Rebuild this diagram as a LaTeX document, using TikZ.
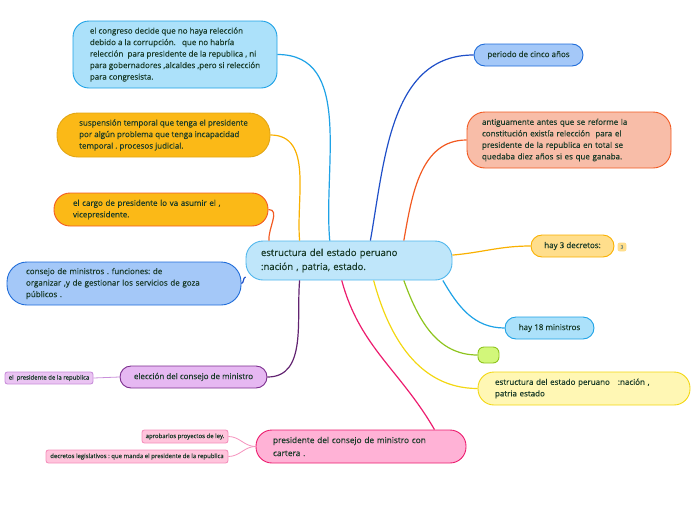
\documentclass[tikz,border=0pt]{standalone}
\usepackage{fontspec}
\setmainfont{Open Sans}[FakeBold=0.35]
\usepackage{xcolor}
\usepackage{tikz}
\usetikzlibrary{positioning}
\frenchspacing
\definecolor{inkText}{HTML}{183A28}
\definecolor{cyanLine}{HTML}{1EA2E6}
\definecolor{cyanFill}{HTML}{ACE1FA}
\definecolor{cenFill}{HTML}{BFE6FA}
\definecolor{cenLine}{HTML}{4FB6EC}
\definecolor{amberLine}{HTML}{F9B000}
\definecolor{amberFill}{HTML}{FBB917}
\definecolor{redLine}{HTML}{F25A22}
\definecolor{salmonFill}{HTML}{F8BDA8}
\definecolor{blueLine}{HTML}{1F6CD9}
\definecolor{blueDark}{HTML}{1F4FC8}
\definecolor{blueFill}{HTML}{A4C8F8}
\definecolor{purpleLine}{HTML}{7B2D8E}
\definecolor{purpleFill}{HTML}{E6B8F2}
\definecolor{lilacLine}{HTML}{C98FDA}
\definecolor{lilacFill}{HTML}{EAC4F2}
\definecolor{pinkLine}{HTML}{EC1C6E}
\definecolor{pinkFill}{HTML}{FFB2D6}
\definecolor{roseLine}{HTML}{F590BC}
\definecolor{roseFill}{HTML}{FFC4DC}
\definecolor{goldFill}{HTML}{FFDE8C}
\definecolor{limeLine}{HTML}{8EC41E}
\definecolor{limeFill}{HTML}{D2F77A}
\definecolor{lemonLine}{HTML}{F3D712}
\definecolor{lemonFill}{HTML}{FFF7B4}

\begin{document}
\begin{tikzpicture}[x=1pt, y=-1pt,
                    every node/.style={align=left, text=inkText, inner sep=0pt, line width=0.9pt,
                                       font=\fontsize{8}{11.5}\selectfont},
                    topic/.style={draw, rounded corners=#1},
                    topic/.default=11pt,
                    leaf/.style={draw, rounded corners=2.5pt, font=\fontsize{6}{7}\selectfont},
                    branch/.style={line width=1.2pt},
                    twig/.style={line width=0.8pt}]
\useasboundingbox (0,0) rectangle (696,520);
% central topic
\node[topic=17pt, draw=cenLine, fill=cenFill, minimum width=206, minimum height=39,
      text width=176, inner xsep=15, font=\fontsize{9.5}{14}\selectfont] (cen) at (349,260.5)
      {estructura del estado peruano\\:nación , patria, estado.};
% left side
\node[topic=16pt, draw=cyanLine, fill=cyanFill, minimum width=204, minimum height=67] (cong) at (175,54.5)
      {el congreso decide que no haya relección\\debido a la corrupción.\ \ \ que no habría\\relección\ \ para presidente de la republica , ni\\para gobernadores ,alcaldes ,pero si relección\\para congresista.};
\node[topic=21pt, draw=amberFill!90!black, fill=amberFill, minimum width=213, minimum height=44] (susp) at (163.5,135)
      {suspensión temporal que tenga el presidente\\por algún problema que tenga incapacidad\\temporal . procesos judicial.};
\node[topic=16pt, draw=redLine, fill=amberFill, minimum width=214, minimum height=33,
      text width=176, inner xsep=19] (cargo) at (161,209.5)
      {el cargo de presidente lo va asumir el ,\\vicepresidente.};
\node[topic=20pt, draw=blueLine, fill=blueFill, minimum width=234, minimum height=43,
      text width=196, inner xsep=19] (cons) at (124,283.5)
      {consejo de ministros . funciones: de\\organizar ,y de gestionar los servicios de goza\\públicos .};
\node[topic, draw=purpleLine, fill=purpleFill, minimum width=147, minimum height=22,
      font=\fontsize{8}{10}\selectfont] (elec) at (193.5,377) {elección del consejo de ministro};
\node[leaf, draw=lilacLine, fill=lilacFill, minimum width=88, minimum height=12] (elecsub) at (49,378)
      {el\ \ presidente de la republica};
\node[topic=16pt, draw=pinkLine, fill=pinkFill, minimum width=210, minimum height=33,
      text width=176, inner xsep=17, font=\fontsize{8.3}{13}\selectfont] (pres) at (361,446.5)
      {presidente del consejo de ministro con\\cartera .};
\node[leaf, draw=roseLine, fill=roseFill, minimum width=86, minimum height=13] (apro) at (185,436.5)
      {aprobarlos proyectos de ley.};
\node[leaf, draw=roseLine, fill=roseFill, minimum width=182, minimum height=13] (decr) at (137,456.5)
      {decretos legislativos : que manda el presidente de la republica};
% right side
\node[topic, draw=blueLine, fill=blueFill, minimum width=109, minimum height=22] (peri) at (528.5,55)
      {periodo de cinco años};
\node[topic=18pt, draw=redLine, fill=salmonFill, minimum width=204, minimum height=56,
      text width=174, inner xsep=15] (anti) at (569,140)
      {antiguamente antes que se reforme la\\constitución existía relección\ \ para el\\presidente de la republica en total se\\quedaba diez años si es que ganaba.};
\node[topic, draw=amberLine, fill=goldFill, minimum width=83, minimum height=22,
      font=\fontsize{8}{10}\selectfont] (hay3) at (572.5,246) {hay 3 decretos:};
\node[draw=goldFill, fill=goldFill, rounded corners=2pt, minimum width=8, minimum height=8,
      font=\fontsize{4.5}{5}\selectfont, text=inkText!60] (badge) at (622,247) {3};
\node[topic, draw=cyanLine, fill=cyanFill, minimum width=89, minimum height=22,
      font=\fontsize{8}{10}\selectfont] (hay18) at (549.5,328) {hay 18 ministros};
\node[topic=6pt, draw=limeLine, fill=limeFill, minimum width=21, minimum height=16] (verde) at (488.5,355) {};
\node[topic=16pt, draw=lemonLine, fill=lemonFill, minimum width=212, minimum height=33,
      text width=178, inner xsep=17] (estr) at (584,388.5)
      {estructura del estado peruano\ \ \ :nación ,\\patria estado};
% branches
\draw[branch, cyanLine] (cen.134) to[out=95, in=0] (cong.east);
\draw[branch, amberLine] (cen.158) to[out=95, in=0] (susp.east);
\draw[branch, redLine] (cen.166) to[out=95, in=0] (cargo.east);
\draw[branch, blueDark] (cen.189) to[out=200, in=20] (cons.east);
\draw[branch, purpleLine!80!black] (cen.202) to[out=265, in=0] (elec.east);
\draw[twig, lilacLine] (elec.west) -- (elecsub.east);
\draw[branch, pinkLine] (cen.250) to[out=-75, in=120] (pres.13);
\draw[twig, roseLine] (pres.west) to[out=180, in=0] (apro.east);
\draw[twig, roseLine] (pres.west) to[out=180, in=0] (decr.east);
\draw[branch, blueDark] (cen.43) to[out=80, in=180] (peri.west);
\draw[branch, redLine] (cen.20) to[out=80, in=180] (anti.west);
\draw[branch, amberLine] (cen.3) to[out=5, in=180] (hay3.west);
\draw[branch, cyanLine] (cen.-12.5) to[out=-60, in=180] (hay18.west);
\draw[branch, limeLine] (cen.-20) to[out=-70, in=180] (verde.west);
\draw[branch, lemonLine] (cen.-39) to[out=-75, in=180] (estr.west);
\end{tikzpicture}
\end{document}
